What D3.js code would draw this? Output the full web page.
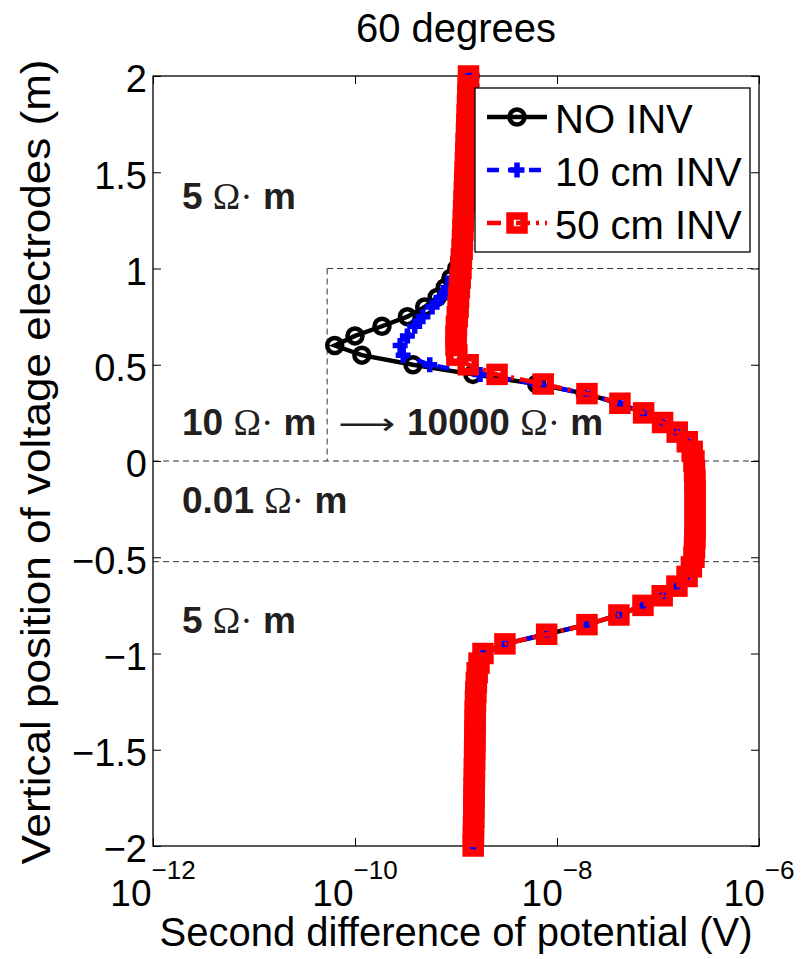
<!DOCTYPE html>
<html>
<head>
<meta charset="utf-8">
<script src="https://cdn.jsdelivr.net/npm/d3@7"></script>
<style>
  body { margin: 0; background: #fff; }
  svg { display: block; }
</style>
</head>
<body>
<div id="chart"></div>
<script>
// depth of the voltage electrodes (m), top to bottom
const depth = [
   2.00,  1.95,  1.90,  1.85,  1.80,  1.75,  1.70,  1.65,  1.60,  1.55,
   1.50,  1.45,  1.40,  1.35,  1.30,  1.25,  1.20,  1.15,  1.10,  1.05,
   1.00,  0.95,  0.90,  0.85,  0.80,  0.75,  0.70,  0.65,  0.60,  0.55,
   0.50,  0.45,  0.40,  0.35,  0.30,  0.25,  0.20,  0.15,  0.10,  0.05,
   0.00, -0.05, -0.10, -0.15, -0.20, -0.25, -0.30, -0.35, -0.40, -0.45,
  -0.50, -0.55, -0.60, -0.65, -0.70, -0.75, -0.80, -0.85, -0.90, -0.95,
  -1.00, -1.05, -1.10, -1.15, -1.20, -1.25, -1.30, -1.35, -1.40, -1.45,
  -1.50, -1.55, -1.60, -1.65, -1.70, -1.75, -1.80, -1.85, -1.90, -1.95,
  -2.00
];

// second difference of potential, in nV
const noInv = [
  1.38, 1.37, 1.36, 1.35, 1.34, 1.33, 1.32, 1.31, 1.30, 1.29,
  1.28, 1.27, 1.26, 1.25, 1.23, 1.21, 1.19, 1.17, 1.14, 1.09,
  1.02, 0.89, 0.78, 0.65, 0.49, 0.33, 0.185, 0.100, 0.063, 0.117,
  0.375, 1.47, 6.3, 19, 41, 71, 110, 154, 194, 217,
  227, 230, 232, 233, 233, 233, 233, 233, 232, 230,
  227, 214, 194, 154, 110, 71, 41, 19.8, 7.9, 3.05,
  1.85, 1.69, 1.62, 1.59, 1.57, 1.56, 1.55, 1.55, 1.54, 1.54,
  1.53, 1.53, 1.52, 1.52, 1.51, 1.51, 1.50, 1.50, 1.49, 1.49,
  1.48
];
const inv10 = [
  1.36, 1.35, 1.34, 1.33, 1.32, 1.31, 1.30, 1.29, 1.28, 1.27,
  1.26, 1.25, 1.24, 1.23, 1.22, 1.21, 1.19, 1.17, 1.15, 1.11,
  1.05, 0.93, 0.83, 0.71, 0.58, 0.47, 0.39, 0.33, 0.28, 0.30,
  0.55, 1.73, 6.4, 19, 41, 71, 110, 154, 194, 217,
  227, 230, 232, 233, 233, 233, 233, 233, 232, 230,
  227, 214, 194, 154, 110, 71, 41, 19.8, 7.9, 3.05,
  1.85, 1.69, 1.62, 1.59, 1.57, 1.56, 1.55, 1.55, 1.54, 1.54,
  1.53, 1.53, 1.52, 1.52, 1.51, 1.51, 1.50, 1.50, 1.49, 1.49,
  1.48
];
const inv50 = [
  1.33, 1.32, 1.31, 1.30, 1.29, 1.28, 1.27, 1.26, 1.25, 1.24,
  1.23, 1.22, 1.21, 1.20, 1.19, 1.18, 1.17, 1.16, 1.15, 1.13,
  1.12, 1.10, 1.08, 1.06, 1.05, 1.03, 1.01, 1.00, 1.00, 1.02,
  1.32, 2.55, 7.3, 19.8, 42, 72, 111, 155, 195, 218,
  227, 230, 232, 233, 233, 233, 233, 233, 232, 230,
  227, 214, 194, 154, 110, 71, 41, 19.8, 7.9, 3.05,
  1.85, 1.69, 1.62, 1.59, 1.57, 1.56, 1.55, 1.55, 1.54, 1.54,
  1.53, 1.53, 1.52, 1.52, 1.51, 1.51, 1.50, 1.50, 1.49, 1.49,
  1.48
];

const seriesNames = ["NO INV", "10 cm INV", "50 cm INV"];
const yTicks = [-2, -1.5, -1, -0.5, 0, 0.5, 1, 1.5, 2];
const xTickExps = [-12, -10, -8, -6];
// layer boundaries (m) and the left edge of the 10 -> 10000 block (V)
const boundaryDepths = [1, 0, -0.523];
const blockLeft = 5.3e-11;

const width = 805, height = 959;
const plotLeft = 153, plotRight = 759, plotTop = 76, plotBottom = 846;
const sans = "'Liberation Sans', Arial, Helvetica, sans-serif";
const serif = "'Liberation Serif', 'DejaVu Serif', serif";

const svg = d3.select("#chart").append("svg")
  .attr("width", width).attr("height", height)
  .attr("viewBox", [0, 0, width, height]);

let x = d3.scaleLog().domain([1e-12, 1e-6]).range([plotLeft, plotRight]);
let y = d3.scaleLinear().domain([-2, 2]).range([plotBottom, plotTop]);

// layer boundaries
let dash = svg.append("g")
  .attr("fill", "none").attr("stroke", "#333")
  .attr("stroke-width", 1).attr("stroke-dasharray", "6,4");
dash.append("line")
  .attr("x1", x(blockLeft)).attr("x2", plotRight)
  .attr("y1", y(boundaryDepths[0])).attr("y2", y(boundaryDepths[0]));
dash.append("line")
  .attr("x1", x(blockLeft)).attr("x2", x(blockLeft))
  .attr("y1", y(boundaryDepths[0])).attr("y2", y(boundaryDepths[1]));
dash.append("line")
  .attr("x1", plotLeft).attr("x2", plotRight)
  .attr("y1", y(boundaryDepths[1])).attr("y2", y(boundaryDepths[1]));
dash.append("line")
  .attr("x1", plotLeft).attr("x2", plotRight)
  .attr("y1", y(boundaryDepths[2])).attr("y2", y(boundaryDepths[2]));

// axes, matlab style: ticks inside on all four sides
svg.append("g")
  .attr("transform", "translate(" + plotLeft + ",0)")
  .call(d3.axisLeft(y).tickValues(yTicks).tickSize(-8).tickSizeOuter(0).tickPadding(6)
    .tickFormat(d => (d < 0 ? "\u2212" : "") + Math.abs(d)))
  .call(g => g.select(".domain").remove())
  .call(g => g.selectAll("text").attr("font-family", sans).attr("font-size", 38)
    .attr("fill", "#000").attr("dy", "0.42em"));
svg.append("g")
  .attr("transform", "translate(" + plotRight + ",0)")
  .call(d3.axisRight(y).tickValues(yTicks).tickSize(-8).tickSizeOuter(0).tickFormat(""))
  .call(g => g.select(".domain").remove());
svg.append("g")
  .attr("transform", "translate(0," + plotBottom + ")")
  .call(d3.axisBottom(x).tickValues(xTickExps.map(e => Math.pow(10, e))).tickSize(-8).tickSizeOuter(0).tickFormat(""))
  .call(g => g.select(".domain").remove());
svg.append("g")
  .attr("transform", "translate(0," + plotTop + ")")
  .call(d3.axisTop(x).tickValues(xTickExps.map(e => Math.pow(10, e))).tickSize(-8).tickSizeOuter(0).tickFormat(""))
  .call(g => g.select(".domain").remove());

svg.append("rect")
  .attr("x", plotLeft).attr("y", plotTop)
  .attr("width", plotRight - plotLeft).attr("height", plotBottom - plotTop)
  .attr("fill", "none").attr("stroke", "#000").attr("stroke-width", 1.3);

// x tick labels 10^e
xTickExps.forEach(function(e) {
  let t = svg.append("text")
    .attr("x", x(Math.pow(10, e))).attr("y", 906)
    .attr("text-anchor", "middle")
    .attr("font-family", sans).attr("font-size", 37);
  t.append("tspan").text("10");
  t.append("tspan").attr("font-size", 26).attr("dy", -27).text("\u2212" + Math.abs(e));
});

// titles
svg.append("text")
  .attr("x", (plotLeft + plotRight) / 2).attr("y", 42)
  .attr("text-anchor", "middle")
  .attr("font-family", sans).attr("font-size", 40)
  .text("60 degrees");
svg.append("text")
  .attr("x", (plotLeft + plotRight) / 2).attr("y", 946)
  .attr("text-anchor", "middle")
  .attr("font-family", sans).attr("font-size", 40)
  .text("Second difference of potential (V)");
svg.append("text")
  .attr("transform", "translate(50,462) rotate(-90)")
  .attr("text-anchor", "middle")
  .attr("font-family", sans).attr("font-size", 40)
  .attr("textLength", 805).attr("lengthAdjust", "spacingAndGlyphs")
  .text("Vertical position of voltage electrodes (m)");

// resistivity annotations
function annot(px, py, value) {
  let t = svg.append("text")
    .attr("x", px).attr("y", py)
    .attr("font-family", sans).attr("font-size", 37)
    .attr("font-weight", "bold").attr("fill", "#231f20");
  t.append("tspan").text(value + " ");
  t.append("tspan").attr("font-family", serif).attr("font-weight", "normal").text("\u03A9\u00B7");
  t.append("tspan").text(" m");
  return t;
}
annot(182, 209, "5");
annot(182, 435, "10");
annot(407, 435, "10000");
annot(182, 513, "0.01");
annot(182, 633, "5");
svg.append("text")
  .attr("x", 338).attr("y", 434)
  .attr("font-family", "'DejaVu Sans', sans-serif").attr("font-size", 30)
  .attr("textLength", 57).attr("lengthAdjust", "spacingAndGlyphs")
  .attr("fill", "#231f20")
  .text("\u27F6");

// series
const styles = [
  { values: noInv, color: "#000", dash: null, marker: "circle" },
  { values: inv10, color: "#0000ff", dash: "12,9", marker: "plus" },
  { values: inv50, color: "#ff0000", dash: "14,6,3,6", marker: "square" }
];

function drawMarker(g, kind, color) {
  if (kind === "circle") {
    g.append("circle").attr("r", 7.5).attr("fill", "none")
      .attr("stroke", color).attr("stroke-width", 4.5);
  } else if (kind === "plus") {
    g.append("path").attr("d", "M-7.5,0H7.5M0,-7.5V7.5").attr("fill", "none")
      .attr("stroke", color).attr("stroke-width", 5.5);
  } else {
    g.append("rect").attr("x", -7).attr("y", -7).attr("width", 14).attr("height", 14)
      .attr("fill", "none").attr("stroke", color).attr("stroke-width", 7.5);
  }
}

let line = d3.line()
  .x(d => x(d[0] * 1e-9))
  .y(d => y(d[1]));

styles.forEach(function(s) {
  let pts = depth.map((z, i) => [s.values[i], z]);
  svg.append("path")
    .datum(pts)
    .attr("d", line)
    .attr("fill", "none")
    .attr("stroke", s.color)
    .attr("stroke-width", 4.5)
    .attr("stroke-dasharray", s.dash);
  svg.append("g").selectAll("g")
    .data(pts)
    .join("g")
    .attr("transform", d => "translate(" + x(d[0] * 1e-9) + "," + y(d[1]) + ")")
    .each(function() { drawMarker(d3.select(this), s.marker, s.color); });
});

// legend
let legend = svg.append("g");
legend.append("rect")
  .attr("x", 475).attr("y", 88).attr("width", 275).attr("height", 164)
  .attr("fill", "#fff").attr("stroke", "#000").attr("stroke-width", 1.3);
seriesNames.forEach(function(name, i) {
  let ly = 117 + i * 53;
  let s = styles[i];
  legend.append("line")
    .attr("x1", 487).attr("x2", 547).attr("y1", ly).attr("y2", ly)
    .attr("stroke", s.color).attr("stroke-width", 4.5)
    .attr("stroke-dasharray", s.dash);
  let m = legend.append("g").attr("transform", "translate(517," + ly + ")");
  drawMarker(m, s.marker, s.color);
  legend.append("text")
    .attr("x", 555).attr("y", ly + 16)
    .attr("font-family", sans).attr("font-size", 40)
    .text(name);
});
</script>
</body>
</html>
